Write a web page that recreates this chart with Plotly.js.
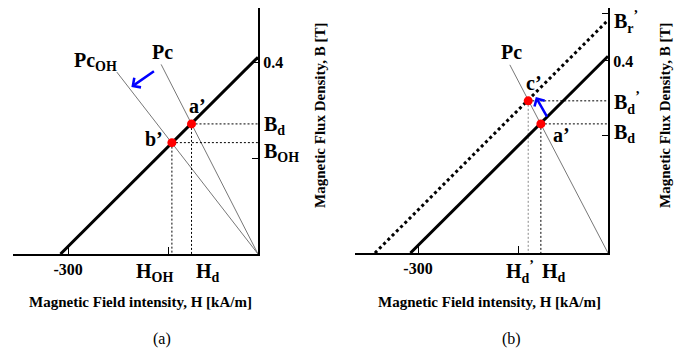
<!DOCTYPE html>
<html>
<head>
<meta charset="utf-8">
<script src="https://cdn.plot.ly/plotly-3.0.1.min.js"></script>
<style>html,body{margin:0;padding:0;background:#fff;}#chart{width:686px;height:352px;}</style>
</head>
<body>
<div id="chart"></div>
<script>
// ---------- data (H in kA/m, B in T) ----------
const demagH = [-312, 0];
const demagB = [0, 0.41];
const recoilH = [-368, 0];
const recoilB = [0, 0.485];

// panel (a)
const pcH_a = [0, -153];
const pcB_a = [0, 0.395];
const pcOHH = [0, -223];
const pcOHB = [0, 0.379];
const ptNames_a = ["a’", "b’"];
const ptH_a = [-105, -136];
const ptB_a = [0.271, 0.232];
const arrowA_tail = [-162, 0.383];
const arrowA_head = [-200, 0.348];

// panel (b)
const pcH_b = [0, -155];
const pcB_b = [0, 0.392];
const ptNames_b = ["a’", "c’"];
const ptH_b = [-106, -126];
const ptB_b = [0.269, 0.317];
const arrowB_tail = [-95, 0.281];
const arrowB_head = [-114, 0.325];

// ticks
const xTickVals = [-300, -141];
const xTickText = ["<b>-300</b>", ""];
const yTickVals_a = [0.2, 0.4];
const yTickText_a = ["", "<b>0.4</b>"];
const yTickVals_b = [0.244, 0.4, 0.498];
const yTickText_b = ["", "<b>0.4</b>", ""];

// ---------- drawing ----------
const W = 686, Hh = 352;
const FONT = "Liberation Serif";
const px = v => v / W;
const py = v => 1 - v / Hh;

function line(x, y, xa, ya, color, width, dash) {
  return {type: "scatter", mode: "lines", x: x, y: y, xaxis: xa, yaxis: ya,
    line: {color: color, width: width, dash: dash || "solid"}, hoverinfo: "skip",
    showlegend: false, cliponaxis: false};
}
function guides(hs, bs, xa, ya, colors) {
  const out = [];
  hs.forEach((h, i) => {
    const c = colors ? colors[i] : "#000";
    out.push(line([h, 0], [bs[i], bs[i]], xa, ya, "#000", 1, "2px,2px"));
    out.push(line([h, h], [bs[i], 0], xa, ya, c, 1, "2px,2px"));
  });
  return out;
}
function points(hs, bs, names, xa, ya) {
  return {type: "scatter", mode: "markers", x: hs, y: bs, text: names, xaxis: xa, yaxis: ya,
    marker: {color: "#ff0000", size: 9}, showlegend: false, cliponaxis: false, hoverinfo: "text"};
}

const traces = [
  line(pcOHH, pcOHB, "x", "y", "#777", 1),
  line(pcH_a, pcB_a, "x", "y", "#777", 1),
  ...guides(ptH_a, ptB_a, "x", "y"),
  line(demagH, demagB, "x", "y", "#000", 3),
  points(ptH_a, ptB_a, ptNames_a, "x", "y"),

  line(pcH_b, pcB_b, "x2", "y2", "#777", 1),
  ...guides(ptH_b, ptB_b, "x2", "y2", ["#000", "#888"]),
  line(recoilH, recoilB, "x2", "y2", "#000", 3, "dot"),
  line(demagH, demagB, "x2", "y2", "#000", 3),
  points(ptH_b, ptB_b, ptNames_b, "x2", "y2")
];

function lab(text, x, y, size, xanchor, opts, plain) {
  return Object.assign({text: plain ? text : "<b>" + text + "</b>", xref: "paper", yref: "paper",
    x: px(x), y: py(y), xanchor: xanchor || "left", yanchor: "middle", showarrow: false,
    font: {family: FONT, size: size || 20, color: "#000"}}, opts || {});
}
function arrow(tail, head, xa, ya) {
  return {x: head[0], y: head[1], ax: tail[0], ay: tail[1], xref: xa, yref: ya,
    axref: xa, ayref: ya, showarrow: true, text: "", arrowcolor: "#0000ff",
    arrowwidth: 2.5, arrowhead: 4, arrowsize: 0.9};
}

const xTitle = "Magnetic Field intensity, H [kA/m]";
const yTitle = "Magnetic Flux Density, B [T]";

const annotations = [
  lab("Pc<sub>OH</sub>", 72, 61),
  lab("Pc", 150, 52),
  lab(ptNames_a[0], 187, 106),
  lab(ptNames_a[1], 143, 139),
  lab("B<sub>d</sub>", 262, 126),
  lab("B<sub>OH</sub>", 262, 152),
  lab("H<sub>OH</sub>", 134, 272),
  lab("H<sub>d</sub>", 194, 272),
  lab(xTitle, 140, 302, 15, "center"),
  lab(yTitle, 320, 116, 15, "center", {textangle: -90}),
  lab("(a)", 162, 339, 16, "center", null, true),
  arrow(arrowA_tail, arrowA_head, "x", "y"),

  lab("Pc", 499, 52),
  lab(ptNames_b[1], 524, 83),
  lab(ptNames_b[0], 551, 135),
  lab("B<sub>r</sub><sup>’</sup>", 612, 22),
  lab("B<sub>d</sub><sup>’</sup>", 612, 103),
  lab("B<sub>d</sub>", 612, 133),
  lab("H<sub>d</sub><sup>’</sup>", 504, 272),
  lab("H<sub>d</sub>", 540, 272),
  lab(xTitle, 489, 302, 15, "center"),
  lab(yTitle, 665, 116, 15, "center", {textangle: -90}),
  lab("(b)", 511, 339, 16, "center", null, true),
  arrow(arrowB_tail, arrowB_head, "x2", "y2")
];

const tickFont = {family: FONT, size: 16, color: "#000"};
function xax(domain, range) {
  return {domain: domain, range: range, showgrid: false, zeroline: false, showline: true,
    linecolor: "#000", linewidth: 2, ticks: "inside", ticklen: 7, tickwidth: 1, tickcolor: "#000",
    tickmode: "array", tickvals: xTickVals, ticktext: xTickText, tickfont: tickFont, fixedrange: true};
}
function yax(domain, range, anchor, tv, tt) {
  return {domain: domain, range: range, anchor: anchor, side: "right", showgrid: false,
    zeroline: false, showline: true, linecolor: "#000", linewidth: 2, ticks: "inside",
    ticklen: 6, tickwidth: 1, tickcolor: "#000", tickmode: "array", tickvals: tv, ticktext: tt,
    tickfont: tickFont, fixedrange: true};
}

const layout = {
  width: W, height: Hh, margin: {l: 0, r: 0, t: 0, b: 0},
  font: {family: FONT, size: 14, color: "#000"},
  paper_bgcolor: "#fff", plot_bgcolor: "rgba(0,0,0,0)", showlegend: false,
  xaxis: Object.assign(xax([px(13), px(258)], [-387, 0]), {anchor: "y"}),
  yaxis: yax([py(254), py(8)], [0, 0.5125], "x", yTickVals_a, yTickText_a),
  xaxis2: Object.assign(xax([px(355), px(608)], [-399.5, 0]), {anchor: "y2"}),
  yaxis2: yax([py(253), py(8)], [0, 0.5104], "x2", yTickVals_b, yTickText_b),
  annotations: annotations
};

Plotly.newPlot("chart", traces, layout, {displayModeBar: false});
</script>
</body>
</html>
